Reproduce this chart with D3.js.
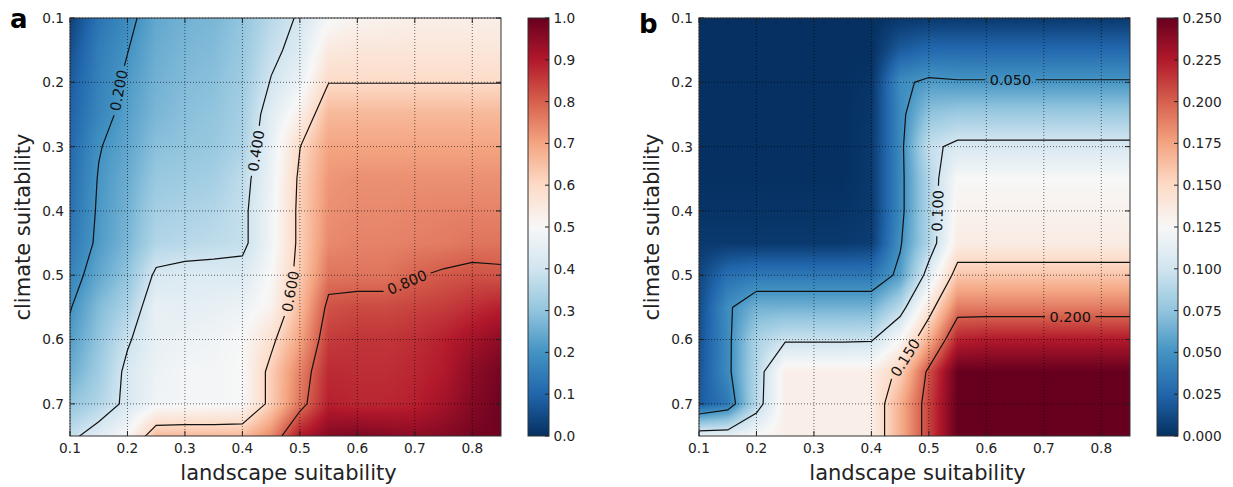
<!DOCTYPE html>
<html>
<head>
<meta charset="utf-8">
<script src="https://cdn.jsdelivr.net/npm/d3@7"></script>
<style>
  body { margin: 0; background: #fff; }
  svg { display: block; font-family: "DejaVu Sans", sans-serif; }
</style>
</head>
<body>
<svg id="fig" width="1233" height="487"></svg>
<script>
// ---- sampling grid (landscape suitability across, climate suitability down) ----
const landscape = [0.10, 0.15, 0.20, 0.25, 0.30, 0.35, 0.40, 0.45, 0.50, 0.55, 0.60, 0.65, 0.70, 0.75, 0.80, 0.85];
const climate = [0.10, 0.15, 0.20, 0.25, 0.30, 0.35, 0.40, 0.45, 0.50, 0.55, 0.60, 0.65, 0.70, 0.75];

const axisTicksX = [0.1, 0.2, 0.3, 0.4, 0.5, 0.6, 0.7, 0.8];
const axisTicksY = [0.1, 0.2, 0.3, 0.4, 0.5, 0.6, 0.7];

// ---- panel a: mean outcome, one row per climate value ----
const gridA = [
  [0.03, 0.13, 0.18,  0.24,  0.26, 0.27, 0.30, 0.36,  0.41,  0.49,  0.52,  0.52,  0.53,  0.53,  0.53,  0.53],
  [0.06, 0.15, 0.198, 0.25,  0.27, 0.28, 0.31, 0.38,  0.43,  0.55,  0.56,  0.56,  0.56,  0.56,  0.56,  0.56],
  [0.08, 0.16, 0.214, 0.26,  0.28, 0.29, 0.32, 0.405, 0.47,  0.598, 0.598, 0.598, 0.598, 0.598, 0.598, 0.598],
  [0.095,0.17, 0.225, 0.27,  0.29, 0.30, 0.33, 0.44,  0.53,  0.665, 0.665, 0.665, 0.665, 0.665, 0.665, 0.665],
  [0.105,0.195,0.237, 0.29,  0.30, 0.31, 0.34, 0.46,  0.598, 0.70,  0.70,  0.70,  0.70,  0.70,  0.70,  0.70],
  [0.115,0.205,0.25,  0.31,  0.32, 0.33, 0.37, 0.47,  0.615, 0.72,  0.73,  0.73,  0.73,  0.73,  0.73,  0.73],
  [0.125,0.21, 0.26,  0.33,  0.34, 0.35, 0.38, 0.48,  0.62,  0.73,  0.74,  0.74,  0.745, 0.75,  0.75,  0.75],
  [0.14, 0.215,0.27,  0.35,  0.36, 0.37, 0.38, 0.48,  0.62,  0.74,  0.75,  0.75,  0.755, 0.76,  0.77,  0.77],
  [0.165,0.24, 0.30,  0.416, 0.43, 0.43, 0.43, 0.50,  0.63,  0.77,  0.77,  0.77,  0.795, 0.81,  0.82,  0.815],
  [0.195,0.28, 0.34,  0.46,  0.45, 0.46, 0.47, 0.52,  0.66,  0.82,  0.83,  0.83,  0.84,  0.85,  0.87,  0.89],
  [0.22, 0.30, 0.39,  0.46,  0.47, 0.48, 0.50, 0.58,  0.70,  0.85,  0.86,  0.86,  0.87,  0.89,  0.92,  0.95],
  [0.25, 0.32, 0.42,  0.47,  0.49, 0.49, 0.50, 0.625, 0.75,  0.875, 0.87,  0.87,  0.88,  0.90,  0.95,  0.98],
  [0.30, 0.35, 0.42,  0.48,  0.49, 0.49, 0.50, 0.625, 0.77,  0.89,  0.88,  0.88,  0.89,  0.92,  0.96,  0.99],
  [0.38, 0.44, 0.50,  0.66,  0.66, 0.66, 0.66, 0.74,  0.90,  0.96,  0.97,  0.96,  0.95,  0.96,  0.98,  0.99]
];
const levelsA = [0.2, 0.4, 0.6, 0.8];
const colorTicksA = [0.0, 0.1, 0.2, 0.3, 0.4, 0.5, 0.6, 0.7, 0.8, 0.9, 1.0];

// ---- panel b: variability, one row per climate value ----
const gridB = [
  [0.000, 0.000, 0.000, 0.000, 0.000, 0.000, 0.000, 0.003, 0.004, 0.004, 0.004, 0.004, 0.004, 0.004, 0.004, 0.004],
  [0.000, 0.000, 0.000, 0.000, 0.000, 0.000, 0.000, 0.020, 0.027, 0.027, 0.027, 0.027, 0.027, 0.027, 0.027, 0.027],
  [0.000, 0.000, 0.000, 0.000, 0.000, 0.000, 0.002, 0.046, 0.054, 0.052, 0.052, 0.052, 0.052, 0.052, 0.052, 0.052],
  [0.000, 0.000, 0.000, 0.000, 0.000, 0.000, 0.003, 0.044, 0.075, 0.080, 0.080, 0.080, 0.080, 0.080, 0.080, 0.080],
  [0.000, 0.000, 0.000, 0.000, 0.000, 0.000, 0.004, 0.044, 0.095, 0.105, 0.105, 0.105, 0.105, 0.105, 0.105, 0.105],
  [0.000, 0.000, 0.000, 0.000, 0.000, 0.000, 0.004, 0.044, 0.087, 0.125, 0.125, 0.125, 0.125, 0.125, 0.125, 0.125],
  [0.002, 0.002, 0.002, 0.002, 0.002, 0.002, 0.004, 0.044, 0.087, 0.130, 0.130, 0.130, 0.130, 0.130, 0.130, 0.130],
  [0.004, 0.004, 0.004, 0.004, 0.004, 0.004, 0.006, 0.048, 0.087, 0.135, 0.135, 0.135, 0.135, 0.135, 0.135, 0.135],
  [0.010, 0.030, 0.035, 0.035, 0.035, 0.035, 0.035, 0.055, 0.110, 0.160, 0.160, 0.160, 0.160, 0.160, 0.160, 0.160],
  [0.013, 0.047, 0.065, 0.065, 0.065, 0.065, 0.065, 0.090, 0.140, 0.190, 0.190, 0.190, 0.190, 0.190, 0.190, 0.190],
  [0.015, 0.045, 0.085, 0.097, 0.097, 0.097, 0.098, 0.125, 0.170, 0.222, 0.225, 0.225, 0.225, 0.225, 0.225, 0.225],
  [0.017, 0.045, 0.088, 0.133, 0.133, 0.133, 0.133, 0.155, 0.205, 0.250, 0.250, 0.250, 0.250, 0.250, 0.250, 0.250],
  [0.020, 0.035, 0.090, 0.133, 0.133, 0.133, 0.133, 0.170, 0.210, 0.250, 0.250, 0.250, 0.250, 0.250, 0.250, 0.250],
  [0.115, 0.115, 0.125, 0.133, 0.133, 0.133, 0.133, 0.170, 0.210, 0.250, 0.250, 0.250, 0.250, 0.250, 0.250, 0.250]
];
const levelsB = [0.05, 0.10, 0.15, 0.20];
const colorTicksB = [0.000, 0.025, 0.050, 0.075, 0.100, 0.125, 0.150, 0.175, 0.200, 0.225, 0.250];

// RdBu reversed, piecewise linear through the eleven ColorBrewer anchors
const rdbuR = ["#053061", "#2166ac", "#4393c3", "#92c5de", "#d1e5f0", "#f7f7f7",
               "#fddbc7", "#f4a582", "#d6604d", "#b2182b", "#67001f"];

// ---- layout ----
const plotTop = 18, plotW = 431, plotH = 418, barW = 21;
const panels = [
  { key: "a", grid: gridA, vmax: 1.0, levels: levelsA, colorTicks: colorTicksA, tickFmt: d3.format(".1f"),
    left: 70, barX: 528, letterY: 28,
    labelAt: [[0.182, 0.212], [0.414, 0.305], [0.463, 0.522], [0.692, 0.522]] },
  { key: "b", grid: gridB, vmax: 0.25, levels: levelsB, colorTicks: colorTicksB, tickFmt: d3.format(".3f"),
    left: 699, barX: 1157, letterY: 32.7,
    labelAt: [[0.642, 0.197], [0.515, 0.40], [0.447, 0.622], [0.746, 0.565]] }
];

const svg = d3.select("#fig");
const defs = svg.append("defs");
const tickFont = 13.7, axisFont = 21, clabelFont = 14.5;

// fractional index <-> coordinate along the sampling grid
const xToIdx = d3.scaleLinear().domain(landscape).range(d3.range(landscape.length));
const yToIdx = d3.scaleLinear().domain(climate).range(d3.range(climate.length));
const idxToX = d3.scaleLinear().domain(d3.range(landscape.length)).range(landscape);
const idxToY = d3.scaleLinear().domain(d3.range(climate.length)).range(climate);

function bilinear(grid, fx, fy) {
  const nx = grid[0].length, ny = grid.length;
  let i0 = Math.max(0, Math.min(nx - 2, Math.floor(fx)));
  let j0 = Math.max(0, Math.min(ny - 2, Math.floor(fy)));
  const tx = Math.max(0, Math.min(1, fx - i0)), ty = Math.max(0, Math.min(1, fy - j0));
  const a = grid[j0][i0], b = grid[j0][i0 + 1], c = grid[j0 + 1][i0], d = grid[j0 + 1][i0 + 1];
  return (a * (1 - tx) + b * tx) * (1 - ty) + (c * (1 - tx) + d * tx) * ty;
}

panels.forEach(p => {
  const x = d3.scaleLinear().domain([0.1, 0.85]).range([p.left, p.left + plotW]);
  const y = d3.scaleLinear().domain([0.1, 0.75]).range([plotTop, plotTop + plotH]);
  const color = d3.scaleLinear()
    .domain(rdbuR.map((_, i) => p.vmax * i / (rdbuR.length - 1)))
    .range(rdbuR).interpolate(d3.interpolateRgb).clamp(true);

  const g = svg.append("g");

  // ---- interpolated field ----
  const canvas = document.createElement("canvas");
  canvas.width = plotW; canvas.height = plotH;
  const ctx = canvas.getContext("2d");
  const img = ctx.createImageData(plotW, plotH);
  for (let j = 0; j < plotH; j++) {
    const fy = yToIdx(y.invert(plotTop + j + 0.5));
    for (let i = 0; i < plotW; i++) {
      const fx = xToIdx(x.invert(p.left + i + 0.5));
      const c = d3.rgb(color(bilinear(p.grid, fx, fy)));
      const k = (j * plotW + i) * 4;
      img.data[k] = c.r; img.data[k + 1] = c.g; img.data[k + 2] = c.b; img.data[k + 3] = 255;
    }
  }
  ctx.putImageData(img, 0, 0);
  g.append("image")
    .attr("x", p.left).attr("y", plotTop)
    .attr("width", plotW).attr("height", plotH)
    .attr("preserveAspectRatio", "none")
    .attr("href", canvas.toDataURL());

  // ---- dotted grid ----
  const gridG = g.append("g").attr("stroke", "#000").attr("stroke-width", 0.8)
    .attr("stroke-dasharray", "1,2").attr("opacity", 0.75);
  axisTicksX.forEach(t => gridG.append("line")
    .attr("x1", x(t)).attr("x2", x(t)).attr("y1", plotTop).attr("y2", plotTop + plotH));
  axisTicksY.forEach(t => gridG.append("line")
    .attr("x1", p.left).attr("x2", p.left + plotW).attr("y1", y(t)).attr("y2", y(t)));

  // ---- contour lines ----
  const nx = landscape.length, ny = climate.length;
  const contours = d3.contours().size([nx, ny]).thresholds(p.levels)(p.grid.flat());
  const toPx = pt => [x(idxToX(pt[0] - 0.5)), y(idxToY(pt[1] - 0.5))];
  const ringsByLevel = contours.map(c => c.coordinates.flatMap(poly => poly.map(ring => ring.map(toPx))));

  const clipId = "clip-" + p.key, maskId = "mask-" + p.key;
  defs.append("clipPath").attr("id", clipId).append("rect")
    .attr("x", p.left).attr("y", plotTop).attr("width", plotW).attr("height", plotH);
  const mask = defs.append("mask").attr("id", maskId).attr("maskUnits", "userSpaceOnUse")
    .attr("x", 0).attr("y", 0).attr("width", 1233).attr("height", 487);
  mask.append("rect").attr("x", 0).attr("y", 0).attr("width", 1233).attr("height", 487).attr("fill", "#fff");

  const lineG = g.append("g").attr("clip-path", `url(#${clipId})`)
    .append("g").attr("mask", `url(#${maskId})`);
  ringsByLevel.forEach(rings => rings.forEach(r => {
    lineG.append("path")
      .attr("d", "M" + r.map(q => q.join(",")).join("L") + "Z")
      .attr("fill", "none").attr("stroke", "#111").attr("stroke-width", 1.2);
  }));

  // ---- inline contour labels ----
  const labelG = g.append("g");
  const inside = q => q[0] >= p.left && q[0] <= p.left + plotW && q[1] >= plotTop && q[1] <= plotTop + plotH;
  p.levels.forEach((lv, li) => {
    const target = [x(p.labelAt[li][0]), y(p.labelAt[li][1])];
    let best = null;
    ringsByLevel[li].forEach(r => {
      const pts = r.concat([r[0]]);
      const cum = [0];
      for (let k = 1; k < pts.length; k++)
        cum.push(cum[k - 1] + Math.hypot(pts[k][0] - pts[k - 1][0], pts[k][1] - pts[k - 1][1]));
      for (let k = 0; k < pts.length - 1; k++) {
        const a = pts[k], b = pts[k + 1];
        const dx = b[0] - a[0], dy = b[1] - a[1], L2 = dx * dx + dy * dy;
        if (L2 === 0) continue;
        let t = ((target[0] - a[0]) * dx + (target[1] - a[1]) * dy) / L2;
        t = Math.max(0, Math.min(1, t));
        const q = [a[0] + t * dx, a[1] + t * dy];
        if (!inside(q)) continue;
        const dist = Math.hypot(q[0] - target[0], q[1] - target[1]);
        if (!best || dist < best.dist) best = { dist, q, s: cum[k] + t * Math.sqrt(L2), pts, cum };
      }
    });
    if (!best) return;
    const at = s => {
      const { pts, cum } = best, total = cum[cum.length - 1];
      s = ((s % total) + total) % total;
      let k = d3.bisectRight(cum, s) - 1;
      k = Math.max(0, Math.min(pts.length - 2, k));
      const seg = cum[k + 1] - cum[k] || 1, t = (s - cum[k]) / seg;
      return [pts[k][0] + t * (pts[k + 1][0] - pts[k][0]), pts[k][1] + t * (pts[k + 1][1] - pts[k][1])];
    };
    const p0 = at(best.s - 12), p1 = at(best.s + 12);
    let ang = Math.atan2(p1[1] - p0[1], p1[0] - p0[0]) * 180 / Math.PI;
    if (ang >= 89.5) ang -= 180;
    if (ang < -90) ang += 180;
    const [cx, cy] = best.q;
    const txt = labelG.append("text")
      .attr("transform", `translate(${cx},${cy}) rotate(${ang})`)
      .attr("text-anchor", "middle").attr("dy", "0.36em")
      .attr("font-size", clabelFont).attr("fill", "#111")
      .text(d3.format(".3f")(lv));
    const w = txt.node().getComputedTextLength() + 9;
    mask.append("rect")
      .attr("transform", `translate(${cx},${cy}) rotate(${ang})`)
      .attr("x", -w / 2).attr("y", -7).attr("width", w).attr("height", 14).attr("fill", "#000");
  });

  // ---- frame and ticks ----
  g.append("rect").attr("x", p.left).attr("y", plotTop).attr("width", plotW).attr("height", plotH)
    .attr("fill", "none").attr("stroke", "#333").attr("stroke-width", 1);
  const tickG = g.append("g").attr("stroke", "#222").attr("stroke-width", 1);
  axisTicksX.forEach(t => {
    tickG.append("line").attr("x1", x(t)).attr("x2", x(t)).attr("y1", plotTop + plotH).attr("y2", plotTop + plotH - 5);
    tickG.append("line").attr("x1", x(t)).attr("x2", x(t)).attr("y1", plotTop).attr("y2", plotTop + 5);
  });
  axisTicksY.forEach(t => {
    tickG.append("line").attr("x1", p.left).attr("x2", p.left + 5).attr("y1", y(t)).attr("y2", y(t));
    tickG.append("line").attr("x1", p.left + plotW).attr("x2", p.left + plotW - 5).attr("y1", y(t)).attr("y2", y(t));
  });

  const textG = g.append("g").attr("fill", "#222");
  axisTicksX.forEach(t => textG.append("text")
    .attr("x", x(t)).attr("y", 453).attr("text-anchor", "middle")
    .attr("font-size", tickFont).text(d3.format(".1f")(t)));
  axisTicksY.forEach(t => textG.append("text")
    .attr("x", p.left - 6).attr("y", y(t)).attr("dy", "0.36em").attr("text-anchor", "end")
    .attr("font-size", tickFont).text(d3.format(".1f")(t)));

  textG.append("text")
    .attr("x", p.left + plotW / 2 + 3).attr("y", 480).attr("text-anchor", "middle")
    .attr("font-size", axisFont).text("landscape suitability");
  textG.append("text")
    .attr("transform", `translate(${p.left - 40},${plotTop + plotH / 2}) rotate(-90)`)
    .attr("text-anchor", "middle").attr("font-size", axisFont).text("climate suitability");

  svg.append("text")
    .attr("x", p.left - 60).attr("y", p.letterY)
    .attr("font-size", 26).attr("font-weight", "bold").attr("fill", "#000").text(p.key);

  // ---- colour bar ----
  const gradId = "grad-" + p.key;
  const grad = defs.append("linearGradient").attr("id", gradId)
    .attr("x1", 0).attr("y1", 1).attr("x2", 0).attr("y2", 0);
  rdbuR.forEach((c, i) => grad.append("stop")
    .attr("offset", i / (rdbuR.length - 1)).attr("stop-color", c));
  const cbar = d3.scaleLinear().domain([0, p.vmax]).range([plotTop + plotH, plotTop]);
  g.append("rect").attr("x", p.barX).attr("y", plotTop).attr("width", barW).attr("height", plotH)
    .attr("fill", `url(#${gradId})`).attr("stroke", "#333").attr("stroke-width", 1);
  p.colorTicks.forEach(t => {
    g.append("line").attr("x1", p.barX + barW - 4).attr("x2", p.barX + barW)
      .attr("y1", cbar(t)).attr("y2", cbar(t)).attr("stroke", "#222").attr("stroke-width", 1);
    g.append("text").attr("x", p.barX + barW + 4.5).attr("y", cbar(t)).attr("dy", "0.36em")
      .attr("font-size", tickFont).attr("fill", "#222").text(p.tickFmt(t));
  });
});
</script>
</body>
</html>
